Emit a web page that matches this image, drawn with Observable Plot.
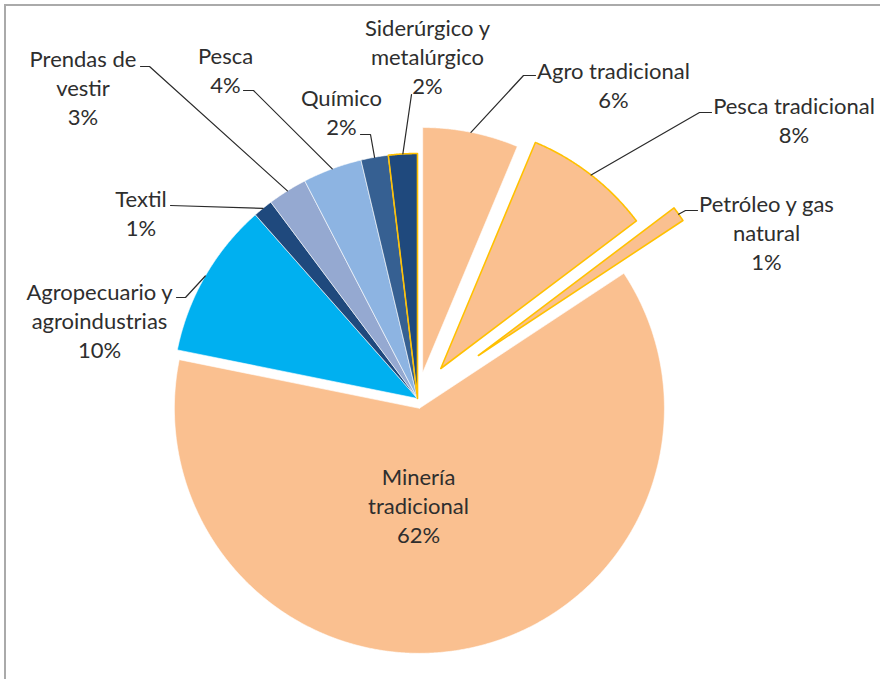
<!DOCTYPE html>
<html>
<head>
<meta charset="utf-8">
<script src="https://cdn.jsdelivr.net/npm/d3@7"></script>
<script src="https://cdn.jsdelivr.net/npm/@observablehq/plot@0.6"></script>
<style>
  html, body { margin: 0; padding: 0; background: #fff; }
  #chart { position: relative; width: 880px; height: 679px; overflow: hidden; }
  #frame { position: absolute; left: 4px; top: 4px; width: 900px; height: 700px; border: 2px solid #aaaaaa; pointer-events: none; }
</style>
</head>
<body>
<div id="chart"><div id="frame"></div></div>
<script>
// ---- data ----
const categories = ["Agro tradicional", "Pesca tradicional", "Petróleo y gas natural", "Minería tradicional",
  "Agropecuario y agroindustrias", "Textil", "Prendas de vestir", "Pesca", "Químico", "Siderúrgico y metalúrgico"];
const shares = [6.3, 8.4, 1.0, 62.4, 10.3, 1.3, 2.6, 3.9, 1.8, 1.9];
const labelLines = [["Agro tradicional"], ["Pesca tradicional"], ["Petróleo y gas", "natural"], ["Minería", "tradicional"],
  ["Agropecuario y", "agroindustrias"], ["Textil"], ["Prendas de", "vestir"], ["Pesca"], ["Químico"], ["Siderúrgico y", "metalúrgico"]];

// ---- styles / layout ----
const colors = ["#FAC090", "#FAC090", "#FAC090", "#FAC090", "#00B0F0", "#1F497D", "#95A9D1", "#8DB4E2", "#366092", "#1F497D"];
const outlined = [false, true, true, false, false, false, false, false, false, true];
const explodePx = [26.5, 38, 74.6, 10, 0, 0, 0, 0, 0, 0];
const W = 880, H = 679, R = 245, CX = 417, CY = 398;
const toX = px => (px - CX) / R, toY = py => (CY - py) / R;
// label block centres (px) and leader start points (px)
const labelPos = [[613, 83.5], [793.5, 119], [766, 231.5], [418, 504], [99, 319.5], [140.5, 211.5], [82.5, 86], [225, 69], [341, 111], [427, 55]];
const leaderStart = [[[535, 75], [523, 75]], [[711, 112], [699, 112]], [[697, 210], [685, 210]], null,
  [[176, 297], [185, 297]], [[170, 205]], [[140, 66], [149, 66]], [[243, 90], [253, 90]], [[360, 134], [370, 134]], [[411, 94]]];

// ---- geometry ----
const total = d3.sum(shares);
let acc = 0;
const slices = categories.map((name, i) => {
  const a0 = acc / total * 2 * Math.PI;
  acc += shares[i];
  const a1 = acc / total * 2 * Math.PI;
  const mid = (a0 + a1) / 2;
  const d = explodePx[i] / R;
  return {name, i, a0, a1, mid, ox: d * Math.sin(mid), oy: d * Math.cos(mid), pct: Math.round(shares[i] / total * 100)};
});

const polyPts = [];
for (const s of slices) {
  polyPts.push({name: s.name, x: s.ox, y: s.oy});
  const n = Math.max(2, Math.ceil((s.a1 - s.a0) / (Math.PI / 720)));
  for (let k = 0; k <= n; k++) {
    const a = s.a0 + (s.a1 - s.a0) * k / n;
    polyPts.push({name: s.name, x: s.ox + Math.sin(a), y: s.oy + Math.cos(a)});
  }
  polyPts.push({name: s.name, x: s.ox, y: s.oy});
}
const outlinePts = polyPts.filter(p => outlined[categories.indexOf(p.name)]);

const leaderPts = [];
slices.forEach((s, i) => {
  if (!leaderStart[i]) return;
  for (const [px, py] of leaderStart[i]) leaderPts.push({name: s.name, x: toX(px), y: toY(py)});
  leaderPts.push({name: s.name, x: s.ox + Math.sin(s.mid), y: s.oy + Math.cos(s.mid)});
});

const labels = slices.map((s, i) => ({
  x: toX(labelPos[i][0]), y: toY(labelPos[i][1]),
  text: [...labelLines[i], s.pct + "%"].join("\n")
}));

const FS = 22;
const chart = Plot.plot({
  width: W, height: H, margin: 0,
  style: {fontFamily: "Lato, 'Open Sans', sans-serif", background: "transparent"},
  x: {domain: [toX(0), toX(W)], axis: null},
  y: {domain: [toY(H), toY(0)], axis: null},
  color: {domain: categories, range: colors},
  marks: [
    Plot.line(polyPts, {x: "x", y: "y", z: "name", fill: "name", stroke: "white", strokeWidth: 0.6, curve: "linear"}),
    Plot.line(outlinePts, {x: "x", y: "y", z: "name", stroke: "#FFC000", strokeWidth: 1.6, curve: "linear"}),
    Plot.line(leaderPts, {x: "x", y: "y", z: "name", stroke: "#2a2a2a", strokeWidth: 1.2, curve: "linear"}),
    Plot.text(labels, {x: "x", y: "y", text: "text", fontSize: FS, lineHeight: 29 / FS, fill: "#2e2e2e",
      textAnchor: "middle", lineAnchor: "middle"})
  ]
});
document.getElementById("chart").prepend(chart);
</script>
</body>
</html>
